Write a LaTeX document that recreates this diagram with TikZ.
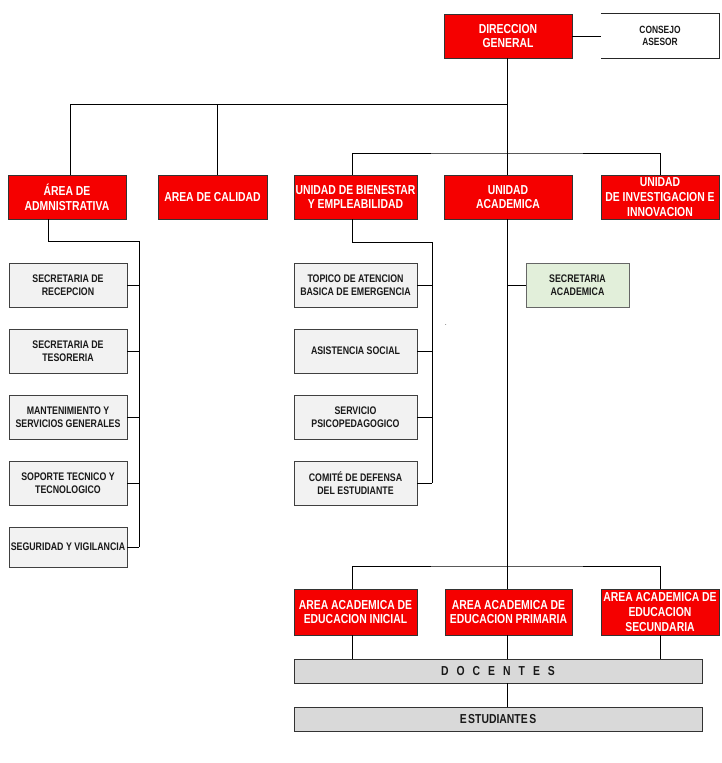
\documentclass[tikz,border=0pt]{standalone}
\usepackage{fontspec}
\setmainfont{Liberation Sans}[FakeStretch=0.8]
\definecolor{boxred}{RGB}{245,0,0}
\definecolor{lightgray}{RGB}{242,242,242}
\definecolor{midgray}{RGB}{217,217,217}
\definecolor{lightgreen}{RGB}{226,239,218}
\tikzset{
  ln/.style={draw=black, line width=1pt},
  redbox/.style={draw=black!80, fill=boxred, text=white, font=\bfseries\fontsize{13}{14.6}\selectfont, align=center, inner sep=0pt, line width=0.8pt},
  graybox/.style={draw=black!75, fill=lightgray, text=black!90, font=\bfseries\fontsize{11}{12.7}\selectfont, align=center, inner sep=0pt, line width=0.8pt},
  greenbox/.style={draw=black!60, fill=lightgreen, text=black!90, font=\bfseries\fontsize{11}{12.7}\selectfont, align=center, inner sep=0pt, line width=0.8pt},
  barbox/.style={draw=black!80, fill=midgray, text=black!90, font=\bfseries\fontsize{13}{14.6}\selectfont, align=center, inner sep=0pt, line width=0.8pt, minimum width=408pt, minimum height=24pt},
  plainbox/.style={text=black!90, font=\bfseries\fontsize{10.5}{12.5}\selectfont, align=center, inner sep=0pt, minimum width=118pt, minimum height=44pt},
}
\newcommand{\spc}{\hspace{8pt}}
\begin{document}
\begin{tikzpicture}[x=1pt,y=-1pt]
\path[use as bounding box] (0,0) rectangle (722,763);

% top
\node[redbox, minimum width=128pt, minimum height=44pt] (dir) at (508,36) {DIRECCION\\GENERAL};
\node[plainbox] (con) at (660,36) {CONSEJO\\ASESOR};

% second level
\node[redbox, minimum width=118pt, minimum height=44pt] (adm) at (67,197) {ÁREA DE\\ADMNISTRATIVA};
\node[redbox, minimum width=109pt, minimum height=44pt] (cal) at (212.5,197) {AREA DE CALIDAD};
\node[redbox, minimum width=123pt, minimum height=44pt] (bie) at (355.5,197) {UNIDAD DE BIENESTAR\\Y EMPLEABILIDAD};
\node[redbox, minimum width=128pt, minimum height=44pt] (aca) at (508,197) {UNIDAD\\ACADEMICA};
\node[redbox, minimum width=118pt, minimum height=44pt] (inv) at (660,197) {UNIDAD\\DE INVESTIGACION E\\INNOVACION};

% left column
\node[graybox, minimum width=118pt, minimum height=44pt] (l1) at (68,285) {SECRETARIA DE\\RECEPCION};
\node[graybox, minimum width=118pt, minimum height=44pt] (l2) at (68,351) {SECRETARIA DE\\TESORERIA};
\node[graybox, minimum width=118pt, minimum height=44pt] (l3) at (68,417) {MANTENIMIENTO Y\\SERVICIOS GENERALES};
\node[graybox, minimum width=118pt, minimum height=44pt] (l4) at (68,483) {SOPORTE TECNICO Y\\TECNOLOGICO};
\node[graybox, minimum width=118pt, minimum height=40pt] (l5) at (68,547) {SEGURIDAD Y VIGILANCIA};

% middle column
\node[graybox, minimum width=123pt, minimum height=44pt] (m1) at (355.5,285) {TOPICO DE ATENCION\\BASICA DE EMERGENCIA};
\node[graybox, minimum width=123pt, minimum height=44pt] (m2) at (355.5,351) {ASISTENCIA SOCIAL};
\node[graybox, minimum width=123pt, minimum height=44pt] (m3) at (355.5,417) {SERVICIO\\PSICOPEDAGOGICO};
\node[graybox, minimum width=123pt, minimum height=44pt] (m4) at (355.5,483) {COMITÉ DE DEFENSA\\DEL ESTUDIANTE};
\node[font=\fontsize{7}{7}\selectfont, inner sep=0pt] (dot) at (446,325) {.};

% secretaria academica
\node[greenbox, minimum width=103pt, minimum height=44pt] (sec) at (577.5,285) {SECRETARIA\\ACADEMICA};

% education areas
\node[redbox, minimum width=123pt, minimum height=46pt] (e1) at (355.5,612) {AREA ACADEMICA DE\\EDUCACION INICIAL};
\node[redbox, minimum width=127pt, minimum height=46pt] (e2) at (508.5,612) {AREA ACADEMICA DE\\EDUCACION PRIMARIA};
\node[redbox, minimum width=118pt, minimum height=46pt] (e3) at (660,612) {AREA ACADEMICA DE\\EDUCACION\\SECUNDARIA};

% bars
\node[barbox] (doc) at (498,671) {D\spc O\spc C\spc E\spc N\spc T\spc E\spc S};
\node[barbox] (est) at (498,719) {E\hspace{1.5pt}STUDIANTE\hspace{1.5pt}S};

% junction coordinates
\coordinate (h1) at (507.5,104);
\coordinate (h2) at (507.5,153);
\coordinate (h3) at (507.5,566);
\coordinate (ja) at (139,241);
\coordinate (jb) at (432,242);

% connectors
\draw[ln] (dir.south -| h1) -- (aca.north -| h1);
\draw[ln] (aca.south -| h1) -- (e2.north -| h1);
\draw[ln] (dir.east) -- (con.west);
\draw[line width=0.8pt, draw=black!85] (con.north west) -- (con.north east) -- (con.south east) -- (con.south west);

\draw[ln] ([xshift=3pt]adm.north) |- (h1);
\draw[ln] ([xshift=4.5pt]cal.north) -- ([xshift=4.5pt]cal.north |- h1);
\draw[ln] ([xshift=-3.5pt]bie.north) |- (h2) -| (inv.north);

\draw[ln] ([xshift=-19pt]adm.south) |- (ja) -- (ja |- l5.east);
\foreach \n in {l1,l2,l3,l4,l5} \draw[ln] (\n.east) -- (\n.east -| ja);

\draw[ln] ([xshift=-3.5pt]bie.south) |- (jb) -- (jb |- m4.east);
\foreach \n in {m1,m2,m3,m4} \draw[ln] (\n.east) -- (\n.east -| jb);

\draw[ln] (sec.west) -- (sec.west -| h1);

\draw[ln] ([xshift=-3.5pt]e1.north) |- (h3) -| (e3.north);
\draw[ln] ([xshift=-3.5pt]e1.south) -- ([xshift=-3.5pt]e1.south |- doc.north);
\draw[ln] (e2.south -| h1) -- (doc.north -| h1);
\draw[ln] (e3.south) -- (e3.south |- doc.north);
\draw[ln] (doc.south -| h1) -- (est.north -| h1);
\end{tikzpicture}
\end{document}
